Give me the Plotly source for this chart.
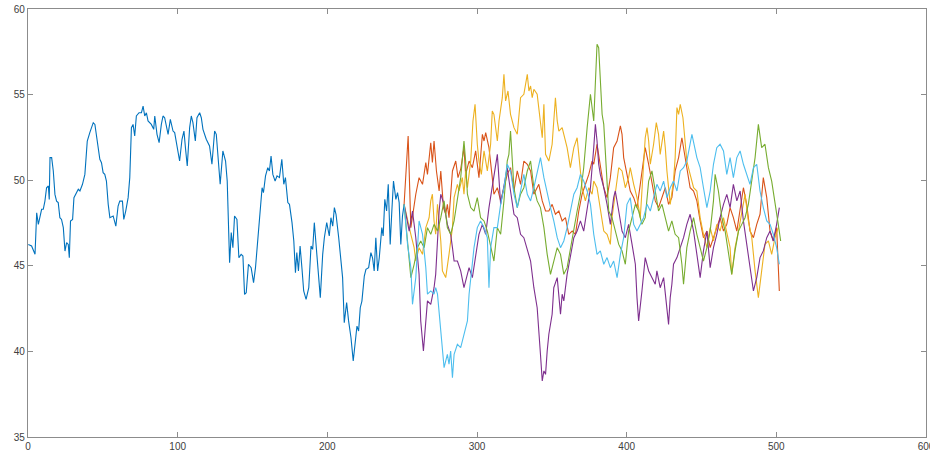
import plotly.graph_objects as go

# ---- historical series (blue) ----
hist_x = [0.2, 2.4, 4.7, 5.8, 6.9, 9.1, 10.2, 11.3, 12.4, 13.6, 14.2, 14.7, 15.8, 16.9, 18.0, 19.1, 20.2,
          21.3, 22.4, 23.6, 24.7, 25.8, 26.9, 27.6, 28.4, 29.8, 30.7, 32.0, 33.6, 34.7, 36.4, 38.0, 39.6,
          41.3, 43.6, 44.7, 46.9, 48.0, 49.1, 50.2, 51.3, 52.4, 53.6, 54.7, 56.9, 58.7, 60.2, 61.3, 63.1,
          64.0, 65.3, 66.9, 68.0, 69.1, 70.2, 71.3, 72.4, 74.2, 75.8, 76.9, 78.0, 79.1, 80.2, 82.4, 84.0,
          84.7, 86.2, 87.6, 89.1, 90.2, 91.3, 93.6, 95.1, 96.9, 98.0, 99.6, 101.3, 102.9, 104.2, 105.3,
          106.4, 108.0, 109.1, 110.2, 111.8, 112.9, 114.7, 115.8, 116.9, 119.1, 121.3, 122.9, 124.7, 125.8,
          126.9, 128.4, 130.2, 132.0, 133.1, 134.2, 134.7, 135.8, 136.9, 138.0, 139.6, 140.9, 142.4, 143.6,
          144.7, 145.8, 147.3, 149.1, 150.7, 152.0, 153.6, 154.7, 156.4, 157.3, 158.7, 160.2, 161.3, 162.4,
          163.6, 165.1, 166.4, 168.0, 169.6, 170.9, 172.0, 173.6, 174.7, 176.4, 177.6, 178.7, 179.6, 180.7,
          181.8, 183.1, 184.2, 185.8, 187.6, 189.1, 190.2, 191.3, 192.4, 194.0, 195.3, 196.9, 198.0, 199.6,
          201.3, 202.4, 203.6, 204.7, 205.8, 207.6, 209.1, 210.2, 211.3, 212.9, 214.2, 215.8, 217.3, 218.7,
          219.8, 220.9, 222.0, 223.1, 224.7, 225.8, 227.6, 229.1, 230.2, 231.3, 232.4, 233.6, 234.7, 236.4,
          237.3, 238.4, 239.6, 240.7, 242.0, 243.1, 244.2, 245.8, 246.9, 248.0, 249.1, 250.2, 251.3]
hist_y = [46.25, 46.16, 45.67, 48.10, 47.42, 48.30, 48.30, 48.78, 49.56, 49.66, 48.88, 51.32, 51.32, 50.54,
          49.17, 48.78, 48.69, 47.81, 47.71, 47.23, 45.86, 46.35, 46.25, 45.47, 47.62, 47.71, 48.98, 49.17,
          49.47, 49.37, 49.76, 50.34, 52.29, 52.78, 53.36, 53.26, 51.98, 51.22, 51.02, 50.44, 50.34, 49.95,
          48.59, 47.81, 47.91, 47.32, 48.49, 48.78, 48.78, 47.71, 48.20, 48.98, 50.15, 53.07, 53.26, 52.58,
          53.75, 53.94, 53.94, 54.33, 53.75, 53.94, 53.46, 53.26, 52.97, 53.75, 52.68, 52.19, 53.26, 53.75,
          53.65, 52.68, 53.55, 52.87, 52.78, 51.90, 51.12, 52.39, 52.87, 51.80, 50.83, 53.07, 53.75, 53.36,
          52.29, 53.65, 53.94, 53.65, 52.97, 52.39, 52.00, 50.93, 52.87, 52.68, 51.61, 49.76, 51.71, 51.12,
          49.95, 47.42, 45.18, 46.94, 46.06, 47.91, 47.71, 45.47, 45.67, 45.57, 43.33, 43.43, 45.09, 44.89,
          44.02, 44.89, 46.64, 47.42, 49.56, 49.27, 50.25, 50.73, 50.54, 51.41, 50.34, 49.95, 50.25, 50.15,
          51.22, 49.76, 50.15, 48.69, 48.59, 47.52, 46.45, 44.60, 45.77, 44.70, 46.16, 44.79, 43.53, 43.04,
          43.72, 46.15, 45.96, 47.52, 46.25, 44.50, 43.14, 45.67, 46.64, 47.52, 46.74, 47.81, 47.32, 48.40,
          48.01, 46.64, 45.47, 44.31, 41.68, 42.85, 41.78, 40.80, 39.44, 40.41, 41.48, 41.19, 42.55, 42.94,
          44.40, 44.79, 44.89, 45.77, 45.47, 44.70, 46.64, 44.70, 45.47, 47.23, 46.74, 48.88, 48.20, 49.76,
          46.25, 48.20, 49.95, 48.88, 49.27, 48.69, 46.25, 47.91, 48.59]

# ---- simulated paths ----
sim1_x = [251.3, 254.0, 255.8, 259.1, 261.3, 263.6, 265.8, 266.9, 269.1, 270.2, 271.3, 272.9, 274.7, 275.8,
          277.6, 279.1, 280.2, 281.3, 283.6, 285.8, 287.3, 289.1, 291.3, 292.4, 294.7, 296.9, 299.1, 301.3,
          303.6, 304.7, 305.8, 308.0, 310.2, 311.3, 313.6, 315.8, 320.2, 322.4, 324.7, 326.9, 329.1, 331.3,
          333.6, 335.8, 338.0, 341.3, 343.6, 345.8, 348.0, 350.2, 352.4, 354.7, 356.9, 359.1, 361.3, 363.6,
          365.8, 368.0, 370.2, 372.4, 374.7, 376.9, 378.0, 380.2, 382.4, 384.7, 386.9, 389.1, 391.3, 393.6,
          395.8, 396.9, 398.0, 400.2, 402.4, 404.7, 406.9, 409.1, 411.3, 412.4, 414.7, 416.9, 419.1, 421.3,
          423.6, 425.8, 428.0, 430.2, 432.4, 434.7, 436.9, 438.0, 440.2, 442.4, 444.7, 446.9, 449.1, 451.3,
          453.6, 455.8, 458.0, 460.2, 462.4, 464.7, 466.9, 469.1, 471.3, 473.6, 475.8, 478.0, 480.2, 482.4,
          484.7, 486.9, 489.1, 491.3, 493.6, 495.8, 498.0, 500.2, 502.0]
sim1_y = [48.59, 52.58, 47.23, 49.18, 50.15, 49.76, 51.03, 50.34, 52.19, 51.03, 52.29, 50.54, 49.37, 50.54,
          48.40, 48.01, 48.59, 47.81, 50.54, 51.12, 50.15, 50.64, 51.90, 50.34, 51.12, 50.73, 51.71, 50.15,
          52.68, 52.29, 52.78, 51.90, 50.15, 49.18, 49.56, 48.79, 50.34, 50.73, 49.37, 50.54, 49.76, 51.12,
          50.93, 50.54, 49.18, 49.76, 48.79, 48.20, 48.20, 48.59, 48.01, 48.20, 47.62, 47.81, 46.84, 47.03,
          46.84, 48.20, 49.18, 49.76, 50.34, 51.12, 50.93, 52.10, 50.73, 49.56, 48.98, 50.15, 51.90, 52.29,
          53.17, 52.68, 51.32, 50.34, 49.37, 48.98, 48.40, 49.76, 51.32, 51.90, 50.93, 49.95, 48.79, 48.40,
          48.98, 49.56, 48.59, 48.98, 50.54, 51.32, 52.48, 51.90, 50.54, 49.56, 49.37, 48.79, 47.62, 46.64,
          47.03, 46.06, 46.64, 47.23, 47.81, 47.03, 47.42, 48.40, 47.81, 47.03, 48.20, 49.56, 48.59, 47.03,
          46.64, 47.42, 48.01, 50.15, 48.98, 47.03, 46.45, 47.23, 43.53]

sim2_x = [251.3, 253.6, 255.8, 258.0, 259.1, 261.3, 263.6, 265.8, 268.0, 269.1, 270.2, 271.3, 272.4, 273.6,
          275.8, 276.9, 279.1, 281.3, 283.6, 284.7, 286.9, 288.0, 290.2, 291.3, 292.4, 293.6, 295.8, 297.3,
          298.7, 300.2, 301.3, 302.9, 304.7, 306.9, 309.1, 310.2, 311.3, 313.6, 314.7, 316.9, 318.0, 319.1,
          320.7, 322.4, 324.7, 326.9, 329.1, 331.3, 333.6, 334.7, 335.8, 336.9, 338.0, 340.2, 342.4, 343.6,
          344.7, 345.8, 348.0, 350.2, 352.4, 353.6, 354.7, 356.9, 358.0, 360.2, 362.4, 364.7, 366.9, 368.0,
          370.2, 372.4, 374.7, 376.9, 378.0, 380.2, 382.4, 384.7, 386.9, 389.1, 390.2, 392.4, 394.7, 396.9,
          399.1, 401.3, 402.4, 404.7, 406.9, 409.1, 411.3, 412.4, 413.6, 414.7, 415.8, 418.0, 419.8, 421.3,
          422.4, 424.7, 425.8, 426.9, 429.1, 431.3, 432.4, 433.6, 434.7, 435.8, 437.6, 439.1, 440.2, 442.4,
          444.7, 446.9, 449.1, 451.3, 453.6, 455.8, 458.0, 460.2, 462.4, 464.7, 466.9, 469.1, 470.2, 472.4,
          474.7, 476.9, 479.1, 481.3, 483.6, 485.8, 488.0, 490.2, 492.4, 494.7, 496.9, 499.1, 501.3]
sim2_y = [48.59, 47.62, 46.84, 46.06, 45.28, 46.06, 45.67, 47.23, 47.81, 48.79, 49.18, 47.62, 46.84, 48.59,
          46.45, 44.70, 44.31, 45.67, 47.23, 48.98, 49.76, 49.37, 50.15, 49.18, 50.54, 49.56, 51.12, 53.46,
          54.43, 52.10, 51.12, 50.34, 51.71, 50.54, 52.10, 54.04, 53.85, 52.29, 53.46, 54.82, 56.18, 54.63,
          55.21, 53.85, 53.07, 52.68, 54.82, 55.02, 56.18, 55.21, 55.50, 54.82, 55.31, 55.02, 53.46, 52.48,
          54.43, 51.51, 51.12, 52.10, 54.82, 53.46, 52.87, 53.07, 52.68, 51.90, 50.73, 51.90, 52.48, 51.51,
          49.56, 48.79, 49.56, 49.18, 49.95, 49.56, 48.20, 47.03, 46.84, 46.25, 47.81, 49.37, 50.73, 50.54,
          49.56, 50.15, 50.73, 49.76, 48.98, 47.81, 50.54, 52.48, 53.07, 52.29, 50.93, 52.10, 53.36, 52.68,
          51.51, 52.87, 51.90, 50.54, 48.59, 49.95, 51.32, 54.24, 53.85, 54.43, 53.65, 51.90, 51.12, 50.34,
          49.56, 49.37, 47.81, 46.84, 46.06, 47.23, 46.45, 47.42, 47.03, 47.81, 46.84, 46.06, 44.50, 46.06,
          47.03, 48.20, 49.17, 47.62, 46.64, 44.70, 43.14, 44.70, 46.25, 46.45, 45.67, 46.64, 47.23]

sim3_x = [251.3, 254.7, 256.9, 259.1, 261.3, 262.4, 264.2, 265.8, 266.9, 269.1, 271.3, 272.4, 273.6, 274.7,
          275.8, 278.0, 280.2, 282.4, 283.6, 284.7, 286.9, 289.1, 291.3, 292.4, 294.7, 296.9, 299.1, 301.3,
          303.6, 305.8, 308.0, 310.2, 312.4, 313.6, 315.8, 318.0, 320.2, 322.4, 324.7, 326.9, 329.1, 331.3,
          333.6, 335.8, 338.0, 340.2, 342.4, 343.6, 344.7, 345.8, 346.9, 348.0, 350.2, 351.3, 353.6, 355.8,
          356.9, 358.0, 360.2, 362.4, 364.7, 366.9, 369.1, 371.3, 373.6, 375.8, 378.0, 379.1, 380.2, 381.3,
          382.4, 384.7, 386.9, 389.1, 391.3, 392.4, 394.7, 396.9, 399.1, 401.3, 403.6, 405.8, 406.9, 408.0,
          410.2, 412.4, 414.7, 416.9, 419.1, 420.2, 422.4, 424.7, 426.9, 428.0, 429.1, 430.2, 431.3, 433.6,
          435.8, 438.0, 440.2, 442.4, 444.7, 446.9, 449.1, 451.3, 453.6, 455.8, 458.0, 460.2, 462.4, 464.7,
          466.9, 469.1, 471.3, 473.6, 475.8, 478.0, 480.2, 482.4, 484.7, 486.9, 489.1, 491.3, 493.6, 495.8,
          498.0, 500.2, 502.0]
sim3_y = [48.59, 47.03, 48.20, 46.64, 44.50, 41.78, 40.02, 41.78, 42.95, 42.75, 43.72, 44.50, 46.45, 48.20,
          49.18, 48.59, 47.42, 46.84, 46.06, 45.28, 45.28, 44.70, 43.72, 44.11, 44.89, 44.31, 45.67, 46.84,
          47.42, 46.84, 48.40, 49.56, 50.73, 51.51, 48.59, 49.56, 50.73, 49.37, 48.01, 47.81, 46.84, 46.64,
          45.87, 45.28, 43.72, 42.55, 39.83, 38.27, 38.86, 38.66, 40.02, 41.00, 42.17, 43.72, 44.31, 42.17,
          43.34, 42.95, 44.50, 45.67, 46.64, 47.03, 47.62, 47.03, 48.20, 49.56, 51.90, 53.26, 52.29, 50.93,
          50.34, 49.56, 48.59, 47.42, 48.98, 49.37, 48.20, 47.03, 46.64, 47.42, 46.25, 45.09, 43.14, 41.78,
          43.53, 45.48, 44.70, 44.31, 43.92, 44.70, 43.72, 44.31, 42.55, 41.58, 43.14, 43.92, 45.09, 45.48,
          46.06, 46.64, 47.42, 48.01, 47.03, 45.67, 44.31, 45.87, 47.03, 44.89, 46.06, 46.84, 47.81, 48.59,
          49.17, 48.40, 49.76, 48.79, 49.37, 47.62, 46.25, 44.89, 43.53, 44.31, 45.48, 45.87, 46.64, 47.03,
          46.45, 47.42, 48.40]

sim4_x = [251.3, 253.6, 255.8, 258.0, 260.2, 262.4, 264.7, 266.9, 269.1, 271.3, 273.6, 275.8, 278.0, 280.2,
          282.4, 284.7, 286.9, 289.1, 291.3, 292.4, 293.6, 295.8, 298.0, 300.2, 302.4, 304.7, 306.9, 309.1,
          311.3, 313.6, 315.8, 318.0, 320.2, 321.3, 322.4, 323.6, 324.7, 326.9, 329.1, 331.3, 333.6, 335.8,
          338.0, 340.2, 342.4, 344.7, 346.9, 349.1, 351.3, 353.6, 355.8, 358.0, 360.2, 362.4, 364.7, 366.9,
          369.1, 371.3, 373.6, 375.8, 378.0, 380.2, 381.3, 382.4, 383.6, 384.7, 385.8, 386.9, 388.0, 390.2,
          392.4, 394.7, 396.9, 399.1, 401.3, 403.6, 405.8, 408.0, 410.2, 412.4, 414.7, 416.9, 419.1, 421.3,
          423.6, 425.8, 428.0, 430.2, 432.4, 434.7, 436.9, 438.0, 440.2, 442.4, 444.7, 446.9, 449.1, 451.3,
          453.6, 455.8, 458.0, 459.1, 461.3, 463.6, 465.8, 468.0, 470.2, 472.4, 474.7, 476.9, 479.1, 481.3,
          483.6, 485.8, 488.0, 490.2, 492.4, 494.7, 496.9, 499.1, 501.3, 502.9]
sim4_y = [48.59, 46.45, 44.31, 45.09, 46.06, 46.45, 46.06, 47.23, 46.84, 47.42, 47.03, 47.81, 48.79, 47.23,
          46.84, 47.62, 48.79, 50.15, 52.29, 51.12, 49.18, 48.40, 48.20, 48.98, 47.81, 47.62, 47.03, 46.06,
          45.28, 47.23, 46.84, 48.79, 51.12, 51.51, 52.87, 51.12, 49.56, 48.40, 49.18, 49.56, 50.54, 51.12,
          49.56, 48.79, 48.40, 47.23, 45.67, 44.50, 45.28, 46.06, 45.67, 44.50, 44.89, 46.06, 47.23, 48.20,
          49.18, 50.73, 53.07, 55.02, 53.46, 57.94, 57.74, 55.79, 53.85, 53.26, 51.32, 49.37, 48.20, 47.81,
          47.03, 46.25, 45.87, 45.09, 47.03, 47.81, 48.59, 48.20, 47.42, 47.81, 49.95, 50.54, 49.37, 48.20,
          48.59, 47.81, 47.03, 47.62, 46.84, 46.64, 45.09, 43.92, 46.06, 47.03, 47.81, 46.84, 46.06, 45.28,
          46.06, 47.03, 48.79, 50.34, 49.37, 47.81, 47.03, 45.87, 44.50, 45.87, 47.03, 47.42, 47.81, 48.59,
          49.95, 51.32, 53.26, 51.90, 52.10, 50.73, 49.95, 48.79, 47.42, 46.45]

sim5_x = [251.3, 253.6, 255.8, 256.9, 259.1, 261.3, 263.6, 265.8, 266.9, 269.1, 271.3, 272.4, 273.6, 274.7,
          275.8, 276.9, 278.0, 280.2, 281.3, 282.4, 283.6, 284.7, 286.9, 289.1, 291.3, 293.6, 294.7, 295.8,
          298.0, 300.2, 302.4, 304.7, 306.9, 308.0, 309.1, 311.3, 313.6, 315.8, 318.0, 320.2, 322.4, 324.7,
          326.9, 329.1, 331.3, 333.6, 335.8, 338.0, 340.2, 342.4, 344.7, 346.9, 349.1, 351.3, 353.6, 355.8,
          358.0, 360.2, 362.4, 364.7, 366.9, 369.1, 371.3, 373.6, 375.8, 378.0, 380.2, 382.4, 384.7, 386.9,
          389.1, 391.3, 393.6, 395.8, 398.0, 400.2, 402.4, 404.7, 406.9, 409.1, 411.3, 413.6, 415.8, 418.0,
          420.2, 422.4, 424.7, 426.9, 429.1, 431.3, 433.6, 435.8, 438.0, 440.2, 442.4, 443.6, 446.9, 449.1,
          451.3, 453.6, 455.8, 458.0, 460.2, 462.4, 464.7, 466.9, 469.1, 471.3, 473.6, 475.8, 478.0, 480.2,
          482.4, 484.7, 486.9, 489.1, 491.3, 493.6, 495.8, 498.0, 500.2, 502.0]
sim5_y = [48.59, 46.25, 44.89, 42.75, 44.31, 47.62, 46.84, 44.89, 43.34, 43.53, 43.34, 43.72, 43.34, 42.17,
          41.00, 39.83, 39.05, 39.83, 39.25, 40.02, 38.47, 39.83, 40.41, 40.22, 41.00, 41.78, 43.34, 44.31,
          46.06, 47.23, 47.62, 47.23, 46.64, 43.72, 46.06, 47.23, 47.23, 48.59, 49.56, 50.93, 50.54, 49.18,
          48.40, 49.37, 50.34, 49.18, 48.79, 49.56, 50.54, 51.32, 50.15, 49.18, 48.40, 47.62, 46.64, 46.06,
          46.45, 47.23, 48.20, 49.18, 49.56, 50.34, 49.95, 49.37, 48.59, 46.84, 45.67, 45.87, 45.09, 45.48,
          44.89, 45.28, 44.31, 45.67, 46.64, 48.59, 48.98, 47.42, 47.03, 47.42, 47.81, 48.59, 48.20, 48.98,
          49.76, 49.37, 49.95, 48.98, 49.56, 49.95, 49.37, 50.54, 50.73, 51.12, 52.10, 52.68, 51.32, 50.73,
          49.56, 48.40, 49.37, 50.93, 51.90, 52.10, 51.71, 50.34, 51.32, 50.15, 51.32, 51.71, 50.93, 50.34,
          49.76, 50.73, 50.93, 49.37, 48.40, 47.62, 47.42, 46.84, 46.06, 45.09]

x_ticks = [0, 100, 200, 300, 400, 500, 600]
y_ticks = [35, 40, 45, 50, 55, 60]

series = [
    (hist_x, hist_y, "#0072BD"),
    (sim1_x, sim1_y, "#D95319"),
    (sim2_x, sim2_y, "#EDB120"),
    (sim3_x, sim3_y, "#7E2F8E"),
    (sim4_x, sim4_y, "#77AC30"),
    (sim5_x, sim5_y, "#4DBEEE"),
]

fig = go.Figure()
for xs, ys, col in series:
    fig.add_trace(go.Scatter(x=xs, y=ys, mode="lines",
                             line=dict(color=col, width=1.1), showlegend=False))

axis_common = dict(
    showgrid=False, zeroline=False, showline=True, linecolor="#8c8c8c", linewidth=1.3,
    mirror="ticks", ticks="inside", ticklen=5, tickwidth=1, tickcolor="#8c8c8c",
    automargin=False, ticklabeloverflow="allow",
    tickfont=dict(family="Liberation Sans, Arial, sans-serif", size=10, color="#404040"),
)
fig.update_layout(
    width=930, height=454,
    margin=dict(l=28, r=4, t=9, b=17),
    paper_bgcolor="white", plot_bgcolor="white",
    xaxis=dict(range=[0, 600], tickvals=x_ticks, ticktext=[str(v) for v in x_ticks], **axis_common),
    yaxis=dict(range=[35, 60], tickvals=y_ticks, ticktext=[str(v) for v in y_ticks], **axis_common),
)
fig.write_html("out.html", config={"displayModeBar": False},
               post_script="document.body.style.margin='0';document.body.style.overflow='hidden';")
